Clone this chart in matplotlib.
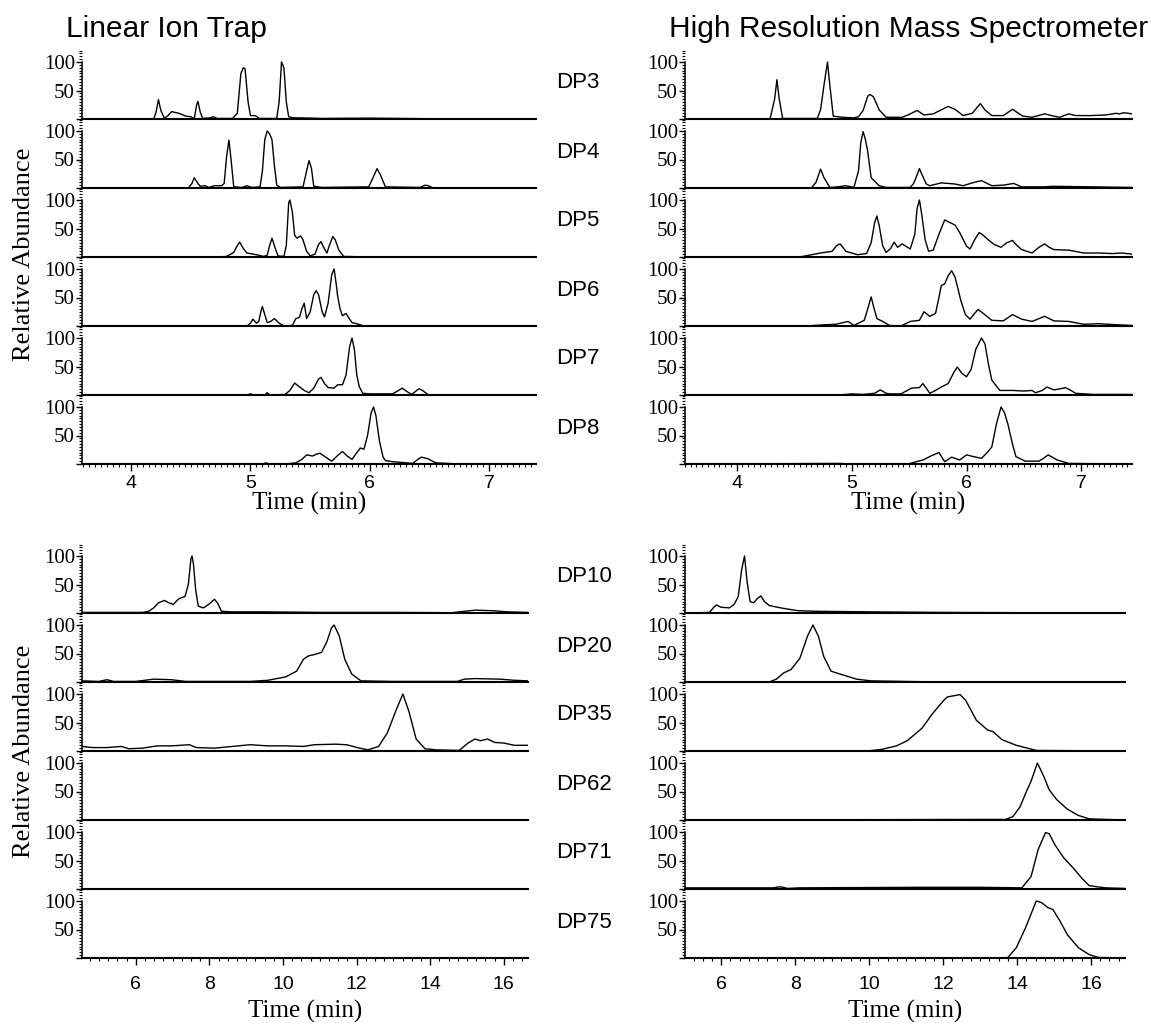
import numpy as np
import matplotlib.pyplot as plt
from matplotlib.ticker import MultipleLocator

# ---- Linear Ion Trap, DP3-DP8 (time in min, relative abundance) ----
lit_dp3_t = [3.59, 4.19, 4.21, 4.23, 4.25, 4.28, 4.31, 4.34, 4.40, 4.46, 4.50, 4.53, 4.55, 4.56, 4.58, 4.60,
             4.66, 4.69, 4.72, 4.85, 4.89, 4.92, 4.94, 4.955, 4.98, 5.00, 5.03, 5.05, 5.07, 5.22, 5.24, 5.26,
             5.28, 5.30, 5.32, 5.36, 5.41, 5.6, 6.0, 6.5, 7.0, 7.39]
lit_dp3_y = [0, 0, 12, 34, 15, 1, 6, 13, 10, 5, 4, 1, 25, 31, 12, 1,
             2, 4, 1, 1, 10, 80, 90, 88, 30, 6, 6, 5, 1, 1, 30, 100,
             90, 30, 4, 2, 2, 1, 1.5, 0.5, 0.5, 0.5]

lit_dp4_t = [3.59, 4.48, 4.51, 4.53, 4.56, 4.58, 4.62, 4.65, 4.70, 4.76, 4.78, 4.80, 4.82, 4.84, 4.86, 4.93,
             4.97, 5.01, 5.08, 5.10, 5.12, 5.14, 5.16, 5.18, 5.20, 5.22, 5.25, 5.44, 5.47, 5.49, 5.51, 5.53,
             5.60, 5.99, 6.03, 6.06, 6.09, 6.13, 6.42, 6.45, 6.47, 6.50, 6.53, 7.39]
lit_dp4_y = [0, 0, 8, 18, 8, 3, 4, 1, 4, 4, 8, 55, 84, 45, 2, 1,
             4, 1, 2, 30, 85, 100, 95, 85, 40, 5, 1, 2, 30, 48, 35, 3,
             1, 2, 20, 34, 22, 2, 1, 4, 5, 3, 0, 0]

lit_dp5_t = [3.59, 4.72, 4.80, 4.86, 4.89, 4.91, 4.94, 4.97, 5.05, 5.11, 5.14, 5.16, 5.18, 5.20, 5.23, 5.28,
             5.30, 5.32, 5.33, 5.35, 5.37, 5.39, 5.42, 5.44, 5.47, 5.50, 5.54, 5.57, 5.59, 5.61, 5.64, 5.66,
             5.69, 5.71, 5.74, 5.78, 5.9, 7.39]
lit_dp5_y = [0, 0, 1, 8, 20, 26, 15, 7, 4, 1, 3, 20, 33, 20, 2, 1,
             20, 95, 100, 80, 38, 33, 37, 30, 10, 2, 5, 22, 27, 18, 7, 20,
             36, 30, 12, 1, 0.5, 0.5]

lit_dp6_t = [3.59, 4.97, 5.00, 5.02, 5.05, 5.07, 5.09, 5.10, 5.12, 5.14, 5.17, 5.20, 5.24, 5.28, 5.35, 5.38,
             5.41, 5.43, 5.45, 5.47, 5.50, 5.53, 5.55, 5.57, 5.60, 5.62, 5.65, 5.68, 5.70, 5.72, 5.73, 5.75,
             5.77, 5.80, 5.82, 5.85, 5.89, 5.95, 7.39]
lit_dp6_y = [0, 0, 5, 12, 5, 8, 28, 34, 20, 6, 8, 13, 5, 0, 1, 13,
             15, 30, 40, 13, 25, 55, 62, 55, 25, 16, 40, 90, 100, 70, 52, 30,
             18, 22, 15, 6, 4, 0, 0]

lit_dp7_t = [3.59, 4.97, 5.00, 5.03, 5.12, 5.14, 5.16, 5.29, 5.33, 5.37, 5.40, 5.45, 5.49, 5.53, 5.57, 5.59,
             5.62, 5.65, 5.70, 5.73, 5.77, 5.80, 5.83, 5.85, 5.87, 5.89, 5.91, 5.94, 6.0, 6.19, 6.24, 6.27,
             6.31, 6.35, 6.38, 6.41, 6.44, 6.49, 7.39]
lit_dp7_y = [0, 0, 2, 0, 0, 4, 0, 1, 8, 21, 16, 8, 4, 12, 28, 31,
             20, 13, 12, 18, 18, 35, 85, 100, 80, 35, 15, 3, 2, 2, 8, 12,
             6, 1, 6, 11, 8, 0, 0]

lit_dp8_t = [3.59, 5.10, 5.13, 5.16, 5.29, 5.38, 5.43, 5.47, 5.52, 5.55, 5.58, 5.63, 5.68, 5.73, 5.77, 5.81,
             5.85, 5.89, 5.92, 5.95, 5.98, 6.01, 6.03, 6.05, 6.08, 6.11, 6.13, 6.19, 6.31, 6.36, 6.40, 6.43,
             6.47, 6.49, 6.53, 6.56, 6.7, 7.39]
lit_dp8_y = [0, 0, 2, 0, 0, 2, 8, 16, 14, 17, 19, 12, 5, 15, 22, 14,
             8, 20, 28, 26, 50, 90, 100, 85, 40, 12, 6, 4, 2, 1, 8, 12,
             10, 9, 4, 2, 0.5, 0.5]

# ---- High Resolution MS, DP3-DP8 ----
hr_dp3_t = [3.55, 4.29, 4.33, 4.35, 4.37, 4.40, 4.70, 4.73, 4.76, 4.79, 4.81, 4.84, 4.92, 5.02, 5.06, 5.10,
            5.14, 5.16, 5.19, 5.24, 5.30, 5.44, 5.50, 5.57, 5.63, 5.71, 5.78, 5.84, 5.90, 5.97, 6.05, 6.12,
            6.16, 6.22, 6.32, 6.40, 6.49, 6.57, 6.68, 6.76, 6.81, 6.89, 6.95, 7.08, 7.21, 7.30, 7.33, 7.37, 7.44]
hr_dp3_y = [0, 0, 35, 69, 35, 1, 1, 16, 60, 100, 60, 5, 3, 2, 4, 15,
            40, 43, 39, 16, 3, 3, 8, 15, 7, 9, 16, 22, 17, 6, 10, 27,
            16, 6, 6, 17, 5, 3, 9, 5, 3, 9, 6, 6, 7, 10, 9, 11, 9]

hr_dp4_t = [3.55, 4.65, 4.69, 4.73, 4.76, 4.81, 4.88, 4.95, 5.02, 5.06, 5.08, 5.10, 5.12, 5.14, 5.17, 5.24,
            5.30, 5.51, 5.54, 5.56, 5.59, 5.62, 5.65, 5.68, 5.78, 5.90, 5.97, 6.05, 6.13, 6.18, 6.22, 6.32,
            6.41, 6.48, 6.67, 6.75, 7.44]
hr_dp4_y = [0, 0, 10, 33, 18, 1, 2, 4, 1, 30, 80, 99, 85, 64, 18, 4,
            1, 1, 8, 18, 34, 20, 7, 4, 9, 7, 4, 9, 13, 8, 4, 5,
            8, 2, 2, 3, 1]

hr_dp5_t = [3.55, 4.54, 4.60, 4.73, 4.83, 4.87, 4.90, 4.95, 5.05, 5.13, 5.17, 5.20, 5.22, 5.24, 5.27, 5.30,
            5.34, 5.37, 5.40, 5.44, 5.51, 5.55, 5.57, 5.59, 5.61, 5.64, 5.67, 5.71, 5.76, 5.81, 5.86, 5.90,
            5.94, 6.00, 6.03, 6.07, 6.11, 6.14, 6.19, 6.24, 6.30, 6.35, 6.40, 6.44, 6.48, 6.57, 6.63, 6.68,
            6.72, 6.76, 6.89, 7.02, 7.15, 7.27, 7.35, 7.44]
hr_dp5_y = [0, 0, 2, 7, 10, 20, 23, 10, 4, 6, 25, 60, 72, 55, 20, 8,
            15, 26, 17, 23, 14, 40, 85, 100, 75, 30, 10, 12, 40, 65, 60, 56,
            43, 19, 14, 30, 43, 39, 30, 22, 17, 25, 29, 20, 13, 7, 17, 23,
            17, 13, 12, 7, 7, 6, 7, 5]

hr_dp6_t = [3.55, 4.60, 4.75, 4.86, 4.97, 5.02, 5.11, 5.14, 5.17, 5.19, 5.22, 5.27, 5.33, 5.43, 5.51, 5.59,
            5.63, 5.68, 5.73, 5.76, 5.78, 5.81, 5.84, 5.87, 5.90, 5.95, 5.99, 6.03, 6.07, 6.10, 6.14, 6.22,
            6.32, 6.40, 6.48, 6.57, 6.68, 6.76, 6.89, 7.02, 7.15, 7.33, 7.44]
hr_dp6_y = [0, 0, 2, 3, 8, 1, 10, 30, 51, 35, 13, 8, 1, 0, 8, 10,
            25, 17, 22, 50, 71, 74, 88, 97, 86, 45, 20, 12, 22, 29, 23, 10,
            9, 20, 12, 8, 17, 9, 8, 3, 4, 2, 1]

hr_dp7_t = [3.55, 4.90, 5.00, 5.10, 5.20, 5.25, 5.30, 5.33, 5.43, 5.52, 5.59, 5.62, 5.65, 5.68, 5.73, 5.78,
            5.84, 5.89, 5.92, 5.96, 6.00, 6.04, 6.08, 6.13, 6.16, 6.19, 6.22, 6.29, 6.40, 6.50, 6.57, 6.60,
            6.66, 6.70, 6.76, 6.82, 6.86, 6.90, 6.95, 7.10, 7.44]
hr_dp7_y = [0, 0, 2, 1, 3, 9, 3, 2, 2, 12, 13, 20, 12, 3, 8, 14,
            20, 40, 49, 38, 32, 45, 80, 100, 90, 55, 26, 8, 8, 7, 8, 4,
            8, 14, 9, 11, 13, 9, 3, 1, 1]

hr_dp8_t = [3.55, 4.9, 5.0, 5.49, 5.58, 5.62, 5.70, 5.76, 5.81, 5.87, 5.94, 6.00, 6.06, 6.13, 6.18, 6.22,
            6.26, 6.30, 6.33, 6.36, 6.40, 6.43, 6.51, 6.63, 6.67, 6.71, 6.79, 6.89, 7.44]
hr_dp8_y = [0, 1, 0, 0, 5, 7, 15, 20, 4, 12, 7, 16, 13, 10, 20, 30,
            70, 100, 90, 70, 35, 13, 5, 5, 10, 16, 7, 1, 0]

# ---- Linear Ion Trap, DP10-DP75 (DP62, DP71, DP75 not detected) ----
lit_dp10_t = [4.54, 5.5, 6.19, 6.35, 6.49, 6.62, 6.78, 6.90, 7.02, 7.17, 7.34, 7.43, 7.50, 7.53, 7.57, 7.63,
              7.70, 7.84, 7.98, 8.14, 8.22, 8.33, 8.6, 9.5, 11.05, 13.0, 14.6, 14.93, 15.22, 15.71, 16.10, 16.66]
lit_dp10_y = [1, 1, 1, 3, 9, 18, 22, 18, 15, 25, 29, 50, 95, 100, 85, 40,
              12, 9, 15, 24, 18, 3, 2, 2, 1, 1, 0.5, 3, 5, 4, 2, 1]

lit_dp20_t = [4.54, 5.0, 5.22, 5.4, 6.0, 6.49, 6.97, 7.36, 9.11, 9.59, 10.08, 10.37, 10.56, 10.70, 10.85, 11.05,
              11.19, 11.32, 11.39, 11.53, 11.68, 11.87, 12.12, 13.0, 14.74, 14.93, 15.22, 15.90, 16.29, 16.66]
lit_dp20_y = [2, 1, 4, 1, 1, 5, 4, 1, 1, 3, 9, 19, 40, 46, 48, 52,
              70, 95, 100, 81, 40, 14, 2, 1, 1, 5, 6, 5, 3, 2]

lit_dp35_t = [4.54, 4.83, 5.22, 5.61, 5.81, 6.19, 6.58, 6.97, 7.46, 7.65, 8.14, 8.62, 9.11, 9.59, 10.08, 10.56,
              10.85, 11.44, 11.73, 12.02, 12.31, 12.60, 12.84, 13.09, 13.26, 13.43, 13.62, 13.86, 14.16, 14.79,
              15.03, 15.22, 15.37, 15.56, 15.76, 16.0, 16.29, 16.66]
lit_dp35_y = [8, 6, 6, 8, 4, 5, 9, 9, 11, 6, 5, 8, 11, 9, 9, 8,
              11, 12, 11, 6, 2, 8, 32, 74, 100, 68, 21, 4, 2, 1,
              14, 21, 18, 21, 15, 14, 10, 10]

# ---- High Resolution MS, DP10-DP75 ----
hr_dp10_t = [5.02, 5.68, 5.80, 5.87, 6.0, 6.22, 6.35, 6.46, 6.55, 6.63, 6.70, 6.78, 6.88, 6.97, 7.07, 7.17,
             7.30, 7.69, 8.08, 8.58, 10.05, 12.0, 16.9]
hr_dp10_y = [0, 1, 10, 14, 10, 9, 15, 29, 75, 100, 55, 20, 18, 25, 30, 20,
             13, 8, 4, 3, 2, 1, 0]

hr_dp20_t = [5.02, 7.30, 7.49, 7.69, 7.89, 8.13, 8.33, 8.48, 8.63, 8.77, 8.97, 9.26, 9.66, 10.05, 11.0, 12.0, 16.9]
hr_dp20_y = [0, 0, 5, 16, 22, 42, 80, 100, 80, 45, 19, 13, 5, 2, 1, 0, 0]

hr_dp35_t = [5.02, 9.95, 10.35, 10.74, 11.03, 11.43, 11.72, 12.02, 12.12, 12.30, 12.46, 12.61, 12.90, 13.20,
             13.35, 13.59, 13.98, 14.52, 16.9]
hr_dp35_y = [0, 0, 3, 9, 18, 40, 66, 89, 95, 97, 99, 89, 54, 37, 34, 20, 10, 1, 0]

hr_dp62_t = [5.02, 13.69, 13.89, 14.08, 14.28, 14.38, 14.55, 14.72, 14.87, 15.07, 15.36, 15.66, 15.95, 16.9]
hr_dp62_y = [0, 1, 6, 23, 54, 68, 100, 77, 53, 36, 19, 8, 2, 0]

hr_dp71_t = [5.02, 7.4, 7.59, 7.8, 8.1, 11.5, 13.0, 14.13, 14.38, 14.57, 14.77, 14.87, 15.02, 15.26, 15.56,
             15.75, 15.95, 16.15, 16.4, 16.9]
hr_dp71_y = [2, 2, 4, 1, 2, 3, 3, 2, 22, 69, 99, 97, 78, 55, 34, 19, 6, 4, 2, 1]

hr_dp75_t = [5.02, 13.74, 13.98, 14.23, 14.52, 14.67, 14.82, 14.97, 15.16, 15.36, 15.66, 15.95, 16.2, 16.9]
hr_dp75_y = [0, 0, 18, 53, 100, 97, 89, 85, 65, 41, 18, 6, 1, 0]

top_names = ['DP3', 'DP4', 'DP5', 'DP6', 'DP7', 'DP8']
bottom_names = ['DP10', 'DP20', 'DP35', 'DP62', 'DP71', 'DP75']

lit_top = [(lit_dp3_t, lit_dp3_y), (lit_dp4_t, lit_dp4_y), (lit_dp5_t, lit_dp5_y),
           (lit_dp6_t, lit_dp6_y), (lit_dp7_t, lit_dp7_y), (lit_dp8_t, lit_dp8_y)]
hr_top = [(hr_dp3_t, hr_dp3_y), (hr_dp4_t, hr_dp4_y), (hr_dp5_t, hr_dp5_y),
          (hr_dp6_t, hr_dp6_y), (hr_dp7_t, hr_dp7_y), (hr_dp8_t, hr_dp8_y)]
lit_bottom = [(lit_dp10_t, lit_dp10_y), (lit_dp20_t, lit_dp20_y), (lit_dp35_t, lit_dp35_y),
              None, None, None]
hr_bottom = [(hr_dp10_t, hr_dp10_y), (hr_dp20_t, hr_dp20_y), (hr_dp35_t, hr_dp35_y),
             (hr_dp62_t, hr_dp62_y), (hr_dp71_t, hr_dp71_y), (hr_dp75_t, hr_dp75_y)]

SERIF = 'Liberation Serif'
SANS = 'Liberation Sans'
W, H = 1151, 1024
PITCH = 69.0
YTOP = 100 * PITCH / 57.0

fig = plt.figure(figsize=(W / 100, H / 100), dpi=100)


def draw_group(left, right, baselines, xlim, traces, major, minor, xpad):
    n = len(baselines)
    for i, (base, tr) in enumerate(zip(baselines, traces)):
        ax = fig.add_axes([left / W, 1 - base / H, (right - left) / W, PITCH / H])
        ax.patch.set_visible(False)
        ax.set_xlim(xlim)
        ax.set_ylim(0, YTOP)
        if tr is not None:
            ax.plot(tr[0], tr[1], color='black', lw=1.0, solid_joinstyle='round')
        ax.spines['top'].set_visible(False)
        ax.spines['right'].set_visible(False)
        ax.spines['left'].set_bounds(0, 100)
        ax.spines['left'].set_linewidth(1.1)
        ax.spines['bottom'].set_linewidth(1.5)
        ax.set_yticks([0, 50, 100])
        ax.set_yticklabels(['', '50', '100'], fontfamily=SERIF, fontsize=15)
        ax.yaxis.set_minor_locator(MultipleLocator(5))
        ax.tick_params(axis='y', which='major', length=4, width=1.0, pad=1)
        ax.tick_params(axis='y', which='minor', length=2, width=0.8)
        if i == n - 1:
            ax.xaxis.set_major_locator(MultipleLocator(major))
            ax.xaxis.set_minor_locator(MultipleLocator(minor))
            ax.tick_params(axis='x', which='major', length=5, width=1.0, pad=xpad, labelsize=14)
            ax.tick_params(axis='x', which='minor', length=2.5, width=0.8)
            for lab in ax.get_xticklabels():
                lab.set_fontfamily(SANS)
        else:
            ax.tick_params(axis='x', which='both', bottom=False, labelbottom=False)


top_bases = [119 + PITCH * k for k in range(6)]
bottom_bases = [613 + PITCH * k for k in range(6)]

draw_group(82, 536, top_bases, (3.59, 7.39), lit_top, 1, 0.05, 3)
draw_group(685, 1132, top_bases, (3.55, 7.44), hr_top, 1, 0.05, 3)
draw_group(82, 528, bottom_bases, (4.54, 16.66), lit_bottom, 2, 0.25, 8)
draw_group(685, 1125, bottom_bases, (5.02, 16.92), hr_bottom, 2, 0.25, 8)

for name, base in zip(top_names, top_bases):
    fig.text(556 / W, 1 - (base - 36) / H, name, fontfamily=SANS, fontsize=16, ha='left', va='center')
for name, base in zip(bottom_names, bottom_bases):
    fig.text(556 / W, 1 - (base - 36) / H, name, fontfamily=SANS, fontsize=16, ha='left', va='center')

fig.text(66 / W, 1 - 37 / H, 'Linear Ion Trap', fontfamily=SANS, fontsize=21.5, ha='left', va='baseline')
fig.text(1148 / W, 1 - 37 / H, 'High Resolution Mass Spectrometer', fontfamily=SANS, fontsize=21.5,
         ha='right', va='baseline')

fig.text(24 / W, 1 - 254 / H, 'Relative Abundance', fontfamily=SERIF, fontsize=19, rotation=90,
         ha='center', va='center')
fig.text(24 / W, 1 - 751 / H, 'Relative Abundance', fontfamily=SERIF, fontsize=19, rotation=90,
         ha='center', va='center')

fig.text(309 / W, 1 - 503 / H, 'Time (min)', fontfamily=SERIF, fontsize=18, ha='center', va='center')
fig.text(908 / W, 1 - 503 / H, 'Time (min)', fontfamily=SERIF, fontsize=18, ha='center', va='center')
fig.text(305 / W, 1 - 1011 / H, 'Time (min)', fontfamily=SERIF, fontsize=18, ha='center', va='center')
fig.text(905 / W, 1 - 1011 / H, 'Time (min)', fontfamily=SERIF, fontsize=18, ha='center', va='center')

fig.savefig('out.png', dpi=100)
plt.close('all')
